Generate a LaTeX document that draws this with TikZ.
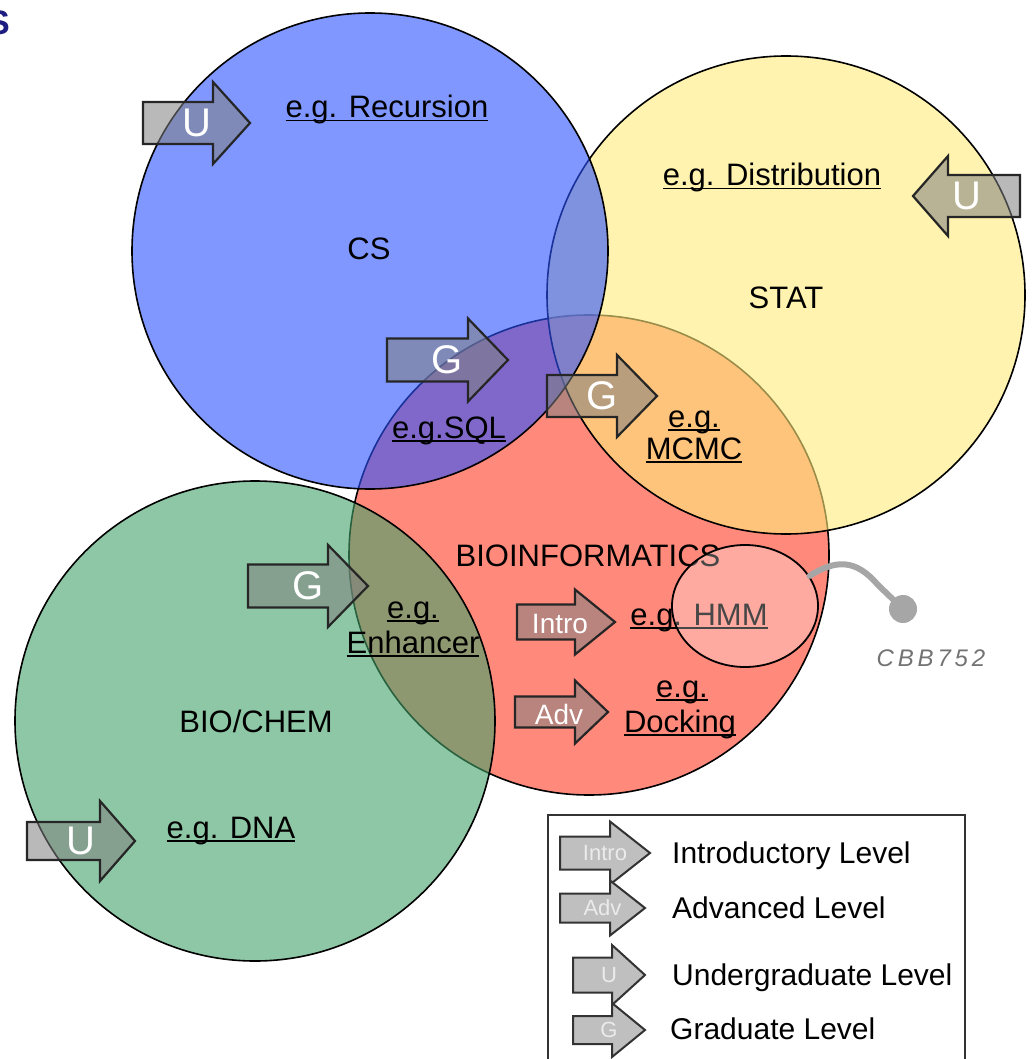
\documentclass[tikz,border=0pt]{standalone}
\usepackage{fontspec}
\setmainfont{Liberation Sans}
\newfontfamily\handfont[LetterSpace=16]{Liberation Sans}
\usetikzlibrary{shapes.geometric}
\definecolor{cred}{RGB}{255,138,124}
\definecolor{cgreen}{RGB}{68,162,105}
\definecolor{cyellow}{RGB}{255,235,123}
\definecolor{cblue}{RGB}{43,82,255}
\definecolor{navyx}{RGB}{30,30,130}
\newsavebox\ulbox
\newcommand\ulx[1]{\sbox\ulbox{#1}\rlap{\rule[-3.5pt]{\wd\ulbox}{1.7pt}}\usebox\ulbox}
\newcommand\fatarr[9]{%
  \draw[#9] (#2,{#3-#6}) -- (#4,{#3-#6}) -- (#4,{#3-#7}) -- (#5,#3) -- (#4,{#3+#7}) -- (#4,{#3+#6}) -- (#2,{#3+#6}) -- cycle;
  \node[#9 label] (#1) at ({(#2+#5)/2},#3) {#8};}
\begin{document}
\begin{tikzpicture}[x=1pt,y=-1pt,
  venn/.style={draw=black, line width=1.6pt},
  lbl/.style={font=\fontsize{31}{35}\selectfont, inner sep=0pt, anchor=base},
  leglbl/.style={font=\fontsize{30}{34}\selectfont, inner sep=0pt, anchor=base west},
  mainarr/.style={fill=black!50, fill opacity=0.55, draw=black!85, line width=2.2pt, line join=miter},
  mainarr label/.style={text=white, font=\fontsize{40}{40}\selectfont, inner sep=0pt},
  smallarr label/.style={text=white, font=\fontsize{28}{28}\selectfont, inner sep=0pt},
  legarr/.style={fill=black!25, draw=black!80, line width=2pt, line join=miter},
  legarr label/.style={text=white!92!black, font=\fontsize{22}{22}\selectfont, inner sep=0pt}]
\useasboundingbox (0,0) rectangle (1032,1059);
\fill[white] (0,0) rectangle (1032,1059);
% cut-off letter
\node[anchor=base east, inner sep=0pt, text=navyx, font=\bfseries\fontsize{34}{34}\selectfont] (cutS) at (10,35) {S};
% circles
\path[venn, fill=cred] (589,555) circle[radius=240pt];
\path[venn, fill=cgreen, fill opacity=0.6] (255,721) circle[radius=240pt];
\path[venn, fill=cyellow, fill opacity=0.6] (786,295) circle[radius=239pt];
\path[venn, fill=cblue, fill opacity=0.6] (370,251) circle[radius=238pt];
% texts
\node[lbl] (recursion) at (387,118) {\ulx{e.g. Recursion}};
\node[lbl] (cs) at (369,259) {CS};
\node[lbl] (distribution) at (772,186) {\ulx{e.g. Distribution}};
\node[lbl] (stat) at (786,308) {STAT};
\node[lbl] (sql) at (449,438) {\ulx{e.g.SQL}};
\node[lbl] (mcmcA) at (694,427) {\ulx{e.g.}};
\node[lbl] (mcmcB) at (694,459) {\ulx{MCMC}};
\node[lbl] (bioinf) at (588,566) {BIOINFORMATICS};
\node[lbl] (enhA) at (413,618) {\ulx{e.g.}};
\node[lbl] (enhB) at (413,653) {\ulx{Enhancer}};
\node[lbl] (hmm) at (699,625) {\ulx{e.g. HMM}};
\node[lbl] (dockA) at (682,697) {\ulx{e.g.}};
\node[lbl] (dockB) at (680,732) {\ulx{Docking}};
\node[lbl] (biochem) at (256,732) {BIO/CHEM};
\node[lbl] (dna) at (231,838) {\ulx{e.g. DNA}};
% HMM ellipse and pin
\node[ellipse, draw=black, line width=1.8pt, fill=white, fill opacity=0.28, draw opacity=1, minimum width=146pt, minimum height=122pt, inner sep=0pt] (hmmring) at (745,606) {};
\node[circle, fill=black!35, minimum size=28pt, inner sep=0pt] (cbbdot) at (903,609) {};
\draw[black!35, line width=6pt, line cap=round] (hmmring.25) .. controls (835,560) and (855,558) .. (878,585) -- (cbbdot.center);
\node[text=black!55, font=\handfont\itshape\fontsize{24}{24}\selectfont, inner sep=0pt] (cbb) at (931,658) {CBB752};
% arrows
\fatarr{u1}{143}{123}{213}{250}{21}{41}{U}{mainarr}
\fatarr{u2}{1020}{196}{948}{913}{21}{40}{U}{mainarr}
\fatarr{g1}{387}{360}{468}{508}{21.5}{41.5}{G}{mainarr}
\fatarr{g2}{547}{396}{617}{657}{21}{41}{G}{mainarr}
\fatarr{g3}{248}{586}{328}{368}{21.5}{41}{G}{mainarr}
\fatarr{u3}{27}{841}{100}{135}{19}{40}{U}{mainarr}
\draw[mainarr] (517,604.5) -- (575,604.5) -- (575,589.5) -- (615,622) -- (575,654.5) -- (575,639.5) -- (517,639.5) -- cycle;
\node[smallarr label] (intro) at (560,624) {Intro};
\draw[mainarr] (515,696.5) -- (575,696.5) -- (575,680.5) -- (608,712) -- (575,743.5) -- (575,727.5) -- (515,727.5) -- cycle;
\node[smallarr label] (adv) at (559,714) {Adv};
% legend
\draw[line width=2pt, draw=black!80, fill=white] (548,815) rectangle (965,1075);
\fatarr{l1}{560}{853}{610}{650}{16.5}{31.5}{Intro}{legarr}
\fatarr{l2}{560}{908}{610}{645}{14.5}{27.5}{Adv}{legarr}
\fatarr{l3}{573}{975}{612}{645}{17.5}{30}{U}{legarr}
\fatarr{l4}{573}{1030}{612}{645}{14}{27}{G}{legarr}
\node[leglbl] (t1) at (672,863) {Introductory Level};
\node[leglbl] (t2) at (672,918) {Advanced Level};
\node[leglbl] (t3) at (672,985) {Undergraduate Level};
\node[leglbl] (t4) at (670,1039) {Graduate Level};
\end{tikzpicture}
\end{document}
